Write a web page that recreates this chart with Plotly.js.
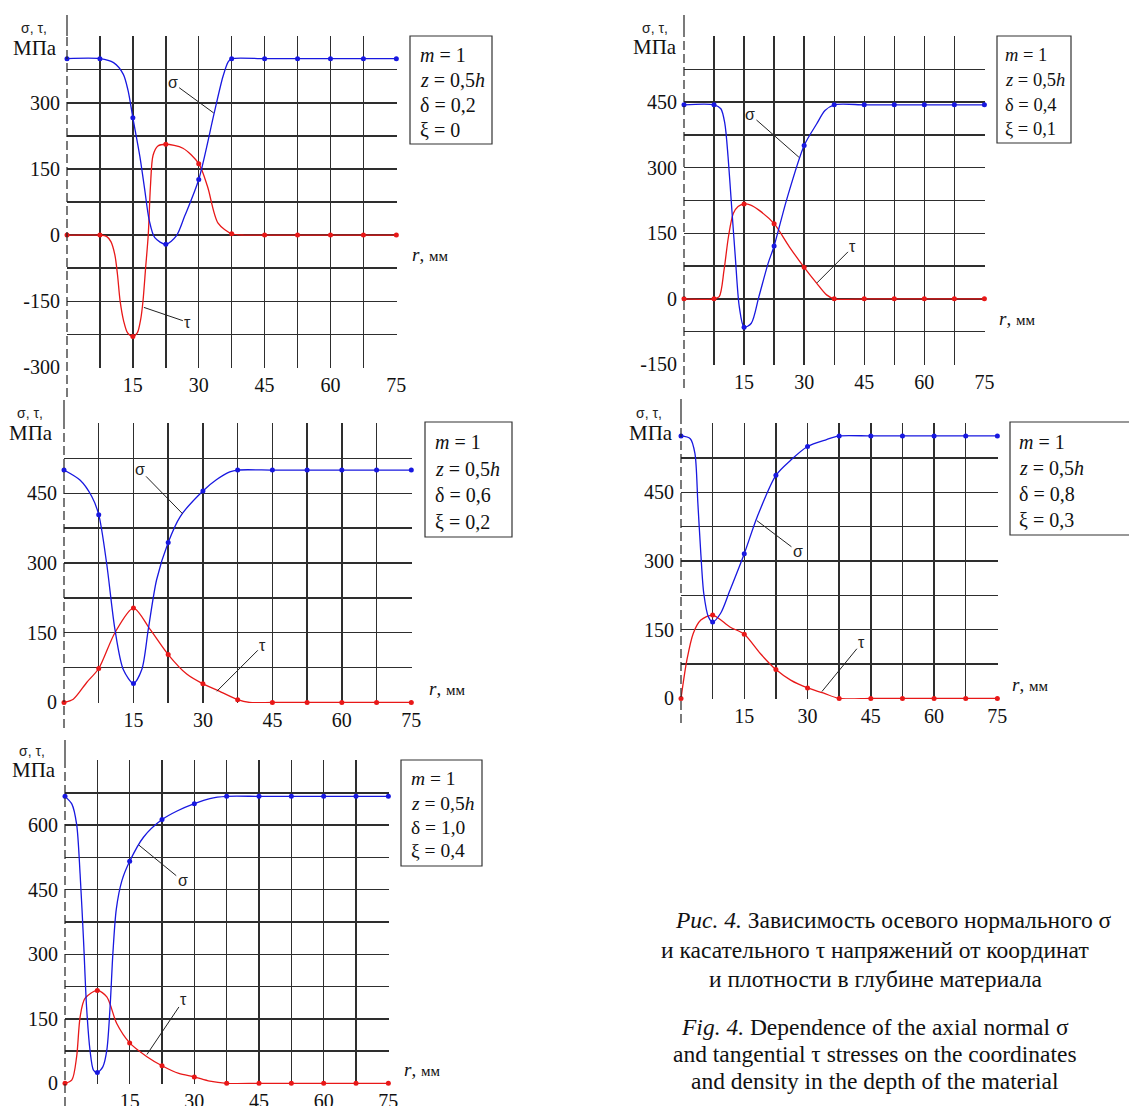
<!DOCTYPE html>
<html><head><meta charset="utf-8">
<script src="https://cdn.plot.ly/plotly-3.0.1.min.js"></script>
<style>html,body{margin:0;padding:0;background:#fff}#chart{width:1129px;height:1106px}</style>
</head><body><div id="chart"></div>
<script>
const W = 1129, H = 1106;

// Radius values r, mm (marker positions)
const rGrid = [0, 7.5, 15, 22.5, 30, 37.5, 45, 52.5, 60, 67.5, 75];

// Panel 1: m=1, z=0,5h, δ=0,2, ξ=0
const sigma1 = [400, 400, 266, -21, 126, 400, 400, 400, 400, 400, 400];
const tau1 = [0, 0, -230, 206, 162, 3, 0, 0, 0, 0, 0];
const sigma1CurveR = [0, 7.5, 10.6, 12.8, 13.9, 15, 16.6, 17.7, 18.7, 20.0, 22.5, 24.9, 26.8, 30, 33.5, 35.5, 36.7, 37.5, 45, 52.5, 60, 67.5, 75];
const sigma1CurveV = [400, 400, 391, 365, 328, 266, 178, 103, 35, -6, -21, -2, 43, 126, 276, 359, 393, 400, 400, 400, 400, 400, 400];
const tau1CurveR = [0, 7.5, 9.0, 10.0, 10.9, 11.5, 12.1, 12.9, 13.8, 15, 16.0, 16.8, 17.3, 17.9, 18.5, 19.0, 19.6, 20.7, 22.5, 26.4, 30, 32.0, 34.4, 37.5, 40.5, 45, 52.5, 60, 67.5, 75];
const tau1CurveV = [0, 0, -3, -15, -45, -90, -150, -195, -222, -230, -222, -190, -150, -75, 0, 110, 181, 202, 206, 197, 162, 110, 27, 3, 0, 0, 0, 0, 0, 0];

// Panel 2: δ=0,4, ξ=0,1
const sigma2 = [444, 444, -65, 121, 351, 444, 444, 444, 444, 444, 444];
const tau2 = [0, 0, 217, 172, 72, 0, 0, 0, 0, 0, 0];
const sigma2CurveR = [0, 7.5, 9.2, 10.2, 11.0, 11.9, 12.8, 13.8, 15, 16.8, 18.7, 21.0, 22.5, 25.6, 30, 33.1, 35.2, 37.5, 45, 52.5, 60, 67.5, 75];
const sigma2CurveV = [444, 444, 435, 401, 325, 210, 97, -18, -65, -56, 5, 81, 121, 226, 351, 400, 431, 444, 444, 444, 444, 444, 444];
const tau2CurveR = [0, 7.5, 8.8, 10.0, 11.1, 12.3, 13.5, 15, 16.5, 18.7, 22.5, 26.3, 30, 33.1, 35.6, 37.5, 45, 52.5, 60, 67.5, 75];
const tau2CurveV = [0, 0, 5, 66, 142, 195, 211, 217, 215, 203, 172, 119, 72, 36, 9, 0, 0, 0, 0, 0, 0];

// Panel 3: δ=0,6, ξ=0,2
const sigma3 = [500, 404, 41, 344, 455, 500, 500, 500, 500, 500, 500];
const tau3 = [0, 73, 203, 103, 40, 6, 0, 0, 0, 0, 0];
const sigma3CurveR = [0, 3.5, 6.0, 7.5, 9.2, 11.0, 12.8, 15, 16.8, 18.2, 20.0, 22.5, 25.1, 30, 32.9, 35.8, 37.5, 45, 52.5, 60, 67.5, 75];
const sigma3CurveV = [500, 478, 443, 404, 300, 157, 71, 41, 71, 157, 264, 344, 400, 455, 479, 496, 500, 500, 500, 500, 500, 500];
const tau3CurveR = [0, 2.0, 4.9, 7.5, 11.0, 15, 18.6, 22.5, 26.5, 30, 33.4, 37.5, 40.1, 45, 52.5, 60, 67.5, 75];
const tau3CurveV = [0, 7, 43, 73, 150, 203, 157, 103, 61, 40, 25, 6, 0, 0, 0, 0, 0, 0];

// Panel 4: δ=0,8, ξ=0,3
const sigma4 = [573, 167, 316, 487, 550, 573, 573, 573, 573, 573, 573];
const tau4 = [0, 182, 140, 63, 23, 0, 0, 0, 0, 0, 0];
const sigma4CurveR = [0, 2.2, 3.3, 4.0, 4.7, 5.4, 6.5, 7.5, 9.4, 11.6, 15, 18.1, 22.5, 26.0, 30, 34.5, 37.5, 45, 52.5, 60, 67.5, 75];
const sigma4CurveV = [573, 567, 535, 426, 316, 229, 178, 167, 186, 236, 316, 397, 487, 520, 550, 565, 573, 573, 573, 573, 573, 573];
const tau4CurveR = [0, 1.4, 2.9, 4.7, 7.5, 11.6, 15, 18.8, 22.5, 26.0, 30, 33.7, 37.5, 45, 52.5, 60, 67.5, 75];
const tau4CurveV = [0, 84, 142, 171, 182, 156, 140, 98, 63, 40, 23, 12, 0, 0, 0, 0, 0, 0];

// Panel 5: δ=1,0, ξ=0,4
const sigma5 = [667, 25, 516, 613, 650, 667, 667, 667, 667, 667, 667];
const tau5 = [0, 216, 94, 41, 15, 0, 0, 0, 0, 0, 0];
const sigma5CurveR = [0, 1.6, 2.7, 3.5, 4.3, 5.0, 5.8, 6.6, 7.5, 8.8, 9.7, 10.5, 11.1, 11.9, 13.2, 15, 18.2, 22.5, 26.0, 30, 33.6, 37.5, 45, 52.5, 60, 67.5, 75];
const sigma5CurveV = [667, 649, 602, 487, 332, 178, 77, 31, 25, 39, 77, 185, 301, 405, 471, 516, 572, 613, 633, 650, 662, 667, 667, 667, 667, 667, 667];
const tau5CurveR = [0, 1.6, 2.7, 3.5, 4.6, 7.5, 9.7, 12.0, 15, 19.0, 22.5, 26.4, 30, 33.6, 37.5, 45, 52.5, 60, 67.5, 75];
const tau5CurveV = [0, 8, 62, 154, 197, 216, 201, 139, 94, 62, 41, 23, 15, 5, 0, 0, 0, 0, 0, 0];

// Parameter box texts
const params1 = ['<i>m</i> = 1', '<i>z</i> = 0,5<i>h</i>', 'δ = 0,2', 'ξ = 0'];
const params2 = ['<i>m</i> = 1', '<i>z</i> = 0,5<i>h</i>', 'δ = 0,4', 'ξ = 0,1'];
const params3 = ['<i>m</i> = 1', '<i>z</i> = 0,5<i>h</i>', 'δ = 0,6', 'ξ = 0,2'];
const params4 = ['<i>m</i> = 1', '<i>z</i> = 0,5<i>h</i>', 'δ = 0,8', 'ξ = 0,3'];
const params5 = ['<i>m</i> = 1', '<i>z</i> = 0,5<i>h</i>', 'δ = 1,0', 'ξ = 0,4'];

const xTickVals = [7.5, 15, 22.5, 30, 37.5, 45, 52.5, 60, 67.5, 75];
const xTickText = ['', '15', '', '30', '', '45', '', '60', '', '75'];

const captionLines = [
  '<i>Рис. 4.</i> Зависимость осевого нормального σ',
  'и касательного τ напряжений от координат',
  'и плотности в глубине материала',
  '<i>Fig. 4.</i> Dependence of the axial normal σ',
  'and tangential τ stresses on the coordinates',
  'and density in the depth of the material'
];

// ---------- layout geometry (pixels) ----------
const panels = [
  {sig: sigma1, tau: tau1, sc: [sigma1CurveR, sigma1CurveV], tc: [tau1CurveR, tau1CurveV], params: params1,
   box: [67, 397, 36, 368], yr: [-300, 450], axTop: 15, axBot: 397,
   pbox: [410, 492, 36, 144], px: 418, py: [55, 80, 105, 130], pfs: 20,
   st: [34, 28], mpa: [35, 48], rmm: [410, 254],
   sl: [33.4, 277, -41, -30], tl: [17.5, -164, 44, 15]},
  {sig: sigma2, tau: tau2, sc: [sigma2CurveR, sigma2CurveV], tc: [tau2CurveR, tau2CurveV], params: params2,
   box: [684, 985, 36, 365], yr: [-150, 600], axTop: 15, axBot: 388,
   pbox: [997, 1071, 36, 143], px: 1003, py: [55, 80, 105, 129], pfs: 18.5,
   st: [655, 28], mpa: [655, 47], rmm: [997, 318],
   sl: [28.7, 324, -49, -43], tl: [33.2, 36.5, 36, -36]},
  {sig: sigma3, tau: tau3, sc: [sigma3CurveR, sigma3CurveV], tc: [tau3CurveR, tau3CurveV], params: params3,
   box: [64, 412, 423, 703], yr: [0, 600], axTop: 400, axBot: 728,
   pbox: [425, 512, 422, 537], px: 433, py: [442, 469, 495, 522], pfs: 20,
   st: [30, 413], mpa: [31, 433], rmm: [427, 688],
   sl: [25.6, 406, -43, -44], tl: [33.0, 24, 46, -46]},
  {sig: sigma4, tau: tau4, sc: [sigma4CurveR, sigma4CurveV], tc: [tau4CurveR, tau4CurveV], params: params4,
   box: [681, 998, 423, 699], yr: [0, 600], axTop: 399, axBot: 723,
   pbox: [1010, 1140, 422, 535], px: 1017, py: [442, 468, 494, 520], pfs: 20,
   st: [649, 413], mpa: [651, 433], rmm: [1010, 684],
   sl: [18.0, 388, 41, 31], tl: [33.4, 15, 40, -49]},
  {sig: sigma5, tau: tau5, sc: [sigma5CurveR, sigma5CurveV], tc: [tau5CurveR, tau5CurveV], params: params5,
   box: [65, 389, 760, 1084], yr: [0, 750], axTop: 740, axBot: 1106,
   pbox: [401, 482, 760, 866], px: 409, py: [778, 803, 827, 851], pfs: 19.5,
   st: [32, 751], mpa: [34, 770], rmm: [402, 1069],
   sl: [17.1, 554, 44, 36], tl: [19.0, 67, 37, -55]}
];

const BLUE = '#1818e0', RED = '#e81818', GRID = '#2e2e2e';
const SERIF = '"Liberation Serif", "Times New Roman", serif';
const SANS = '"Liberation Sans", Arial, sans-serif';
const fx = p => p / W, fy = p => 1 - p / H;

const data = [], shapes = [], annotations = [];
const layout = {
  width: W, height: H, margin: {l: 0, r: 0, t: 0, b: 0},
  paper_bgcolor: '#fff', plot_bgcolor: 'rgba(0,0,0,0)', showlegend: false
};

panels.forEach((p, i) => {
  const n = i + 1, sfx = n === 1 ? '' : String(n);
  const xa = 'x' + sfx, ya = 'y' + sfx;
  const [x0, x1, yT, yB] = p.box;
  const yTicks = [], yText = [];
  for (let v = p.yr[0]; v <= p.yr[1] + 1e-9; v += 75) {
    yTicks.push(v);
    yText.push((v % 150 === 0 && v !== p.yr[1]) ? String(v) : '');
  }
  layout['xaxis' + sfx] = {
    domain: [fx(x0), fx(x1)], anchor: ya, range: [0, 75.15],
    tickmode: 'array', tickvals: xTickVals, ticktext: xTickText,
    showgrid: true, gridcolor: GRID, gridwidth: 1.4, zeroline: false, showline: false,
    ticks: '', ticklabelstandoff: 3,
    tickfont: {family: SERIF, size: 20, color: '#111'}, fixedrange: true
  };
  const ypad = (p.yr[1] - p.yr[0]) * 0.002;
  layout['yaxis' + sfx] = {
    domain: [fy(yB), fy(yT)], anchor: xa, range: [p.yr[0] - ypad, p.yr[1] + ypad],
    tickmode: 'array', tickvals: yTicks, ticktext: yText,
    showgrid: true, gridcolor: GRID, gridwidth: 1.4, zeroline: false, showline: false,
    ticks: '', ticklabelstandoff: 6,
    tickfont: {family: SERIF, size: 20, color: '#111'}, fixedrange: true
  };

  // curves
  data.push({x: p.tc[0], y: p.tc[1], xaxis: xa, yaxis: ya, mode: 'lines',
             line: {color: RED, width: 1.3, shape: 'spline', smoothing: 0.8}, hoverinfo: 'skip'});
  data.push({x: p.sc[0], y: p.sc[1], xaxis: xa, yaxis: ya, mode: 'lines',
             line: {color: BLUE, width: 1.3, shape: 'spline', smoothing: 0.8}, hoverinfo: 'skip'});
  data.push({x: rGrid, y: p.tau, xaxis: xa, yaxis: ya, mode: 'markers',
             marker: {color: RED, size: 5}, cliponaxis: false});
  data.push({x: rGrid, y: p.sig, xaxis: xa, yaxis: ya, mode: 'markers',
             marker: {color: BLUE, size: 5}, cliponaxis: false});

  // left axis line: solid above the grid, dashed along it
  const hPx = yB - yT;
  shapes.push({type: 'line', xref: xa + ' domain', yref: ya + ' domain', x0: 0, x1: 0,
               y0: 1, y1: (yB - p.axTop) / hPx, line: {color: '#222', width: 1.2}});
  shapes.push({type: 'line', xref: xa + ' domain', yref: ya + ' domain', x0: 0, x1: 0,
               y0: (yB - p.axBot) / hPx, y1: 1, line: {color: '#222', width: 1.2, dash: '9px,4px'}});

  // parameter box
  shapes.push({type: 'rect', xref: 'paper', yref: 'paper',
               x0: fx(p.pbox[0]), x1: fx(p.pbox[1]), y0: fy(p.pbox[3]), y1: fy(p.pbox[2]),
               line: {color: '#333', width: 1.2}, fillcolor: 'rgba(0,0,0,0)'});
  p.params.forEach((t, k) => {
    annotations.push({xref: 'paper', yref: 'paper', x: fx(p.px), y: fy(p.py[k]),
                      xanchor: 'left', yanchor: 'middle', showarrow: false, text: t,
                      font: {family: SERIF, size: p.pfs, color: '#111'}});
  });

  // axis captions
  annotations.push({xref: 'paper', yref: 'paper', x: fx(p.st[0]), y: fy(p.st[1]),
                    xanchor: 'center', yanchor: 'middle', showarrow: false, text: 'σ, τ,',
                    font: {family: SANS, size: 14, color: '#222'}});
  annotations.push({xref: 'paper', yref: 'paper', x: fx(p.mpa[0]), y: fy(p.mpa[1]),
                    xanchor: 'center', yanchor: 'middle', showarrow: false, text: 'МПа',
                    font: {family: SERIF, size: 21, color: '#111'}});
  annotations.push({xref: 'paper', yref: 'paper', x: fx(p.rmm[0]), y: fy(p.rmm[1]),
                    xanchor: 'left', yanchor: 'middle', showarrow: false,
                    text: '<i>r</i>, <span style="font-size:15px">мм</span>',
                    font: {family: SERIF, size: 19, color: '#111'}});

  // curve labels with leader lines
  [[p.sl, 'σ'], [p.tl, 'τ']].forEach(([L, t]) => {
    annotations.push({xref: xa, yref: ya, x: L[0], y: L[1], ax: L[2], ay: L[3],
                      showarrow: true, arrowhead: 0, arrowwidth: 1, arrowcolor: '#222',
                      text: t, font: {family: SANS, size: 16, color: '#222'}, standoff: 0});
  });
});

// figure caption
const capY = [920, 950, 979, 1027, 1054, 1081];
captionLines.forEach((t, k) => {
  annotations.push({xref: 'paper', yref: 'paper', x: fx(k === 0 ? 673 : 875), y: fy(capY[k]),
                    xanchor: k === 0 ? 'left' : 'center', yanchor: 'middle', showarrow: false,
                    text: t, font: {family: SERIF, size: 23.5, color: '#111'}});
});

layout.shapes = shapes;
layout.annotations = annotations;
Plotly.newPlot('chart', data, layout, {displayModeBar: false, staticPlot: true});
</script></body></html>
